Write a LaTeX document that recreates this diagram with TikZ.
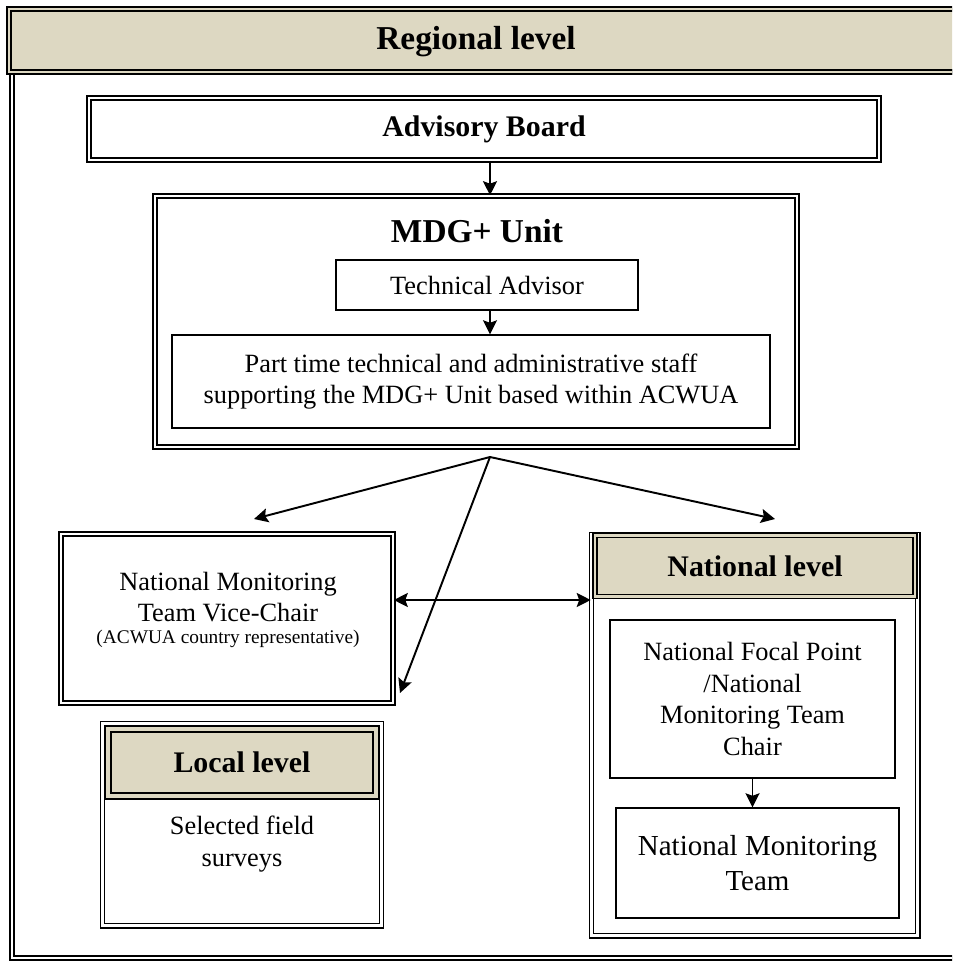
\documentclass[tikz,border=0pt]{standalone}
\usepackage{fontspec}
\setmainfont{Liberation Serif}
\usetikzlibrary{arrows, arrows.meta, positioning}
\definecolor{tanbg}{RGB}{221,216,194}
\tikzstyle{txt}=[align=center, font=\fontsize{15}{18}\selectfont]
\tikzstyle{btxt}=[align=center, font=\fontsize{17}{20}\selectfont\bfseries]
\tikzstyle{bigtxt}=[align=center, font=\fontsize{19}{22}\selectfont\bfseries]
\tikzstyle{box}=[draw, line width=0.8pt, inner sep=0pt, txt]
\tikzstyle{dbox}=[draw, double, double distance=1.6pt, line width=0.9pt, inner sep=0pt]
\tikzstyle{tanbox}=[dbox, fill=tanbg, double=tanbg, btxt]
\tikzstyle{arr} = [line width=1.1pt,->,>={Stealth[length=2.8mm, width=2.8mm, inset=0.5mm]}]

\begin{document}
\begin{tikzpicture}[x=0.2mm, y=-0.2mm]
    \useasboundingbox (0,0) rectangle (952,963);
    \clip (0,0) rectangle (952,963);

    % regional frame and its header
    \node [dbox, minimum width=191.6mm, minimum height=177.2mm](frame) at (491,515) {};
    \node [tanbox, minimum width=192.2mm, minimum height=12.6mm](regbar) at (489.5,40.5) {};
    \node [bigtxt](regional) at (476,42) {Regional level};

    % advisory board and MDG+ unit
    \node [dbox, btxt, minimum width=158mm, minimum height=12.4mm](advisory) at (484,129) {Advisory Board};
    \node [dbox, minimum width=128.4mm, minimum height=50.2mm](mdg) at (476,321.5) {};
    \node [bigtxt](mdgtitle) at (477,231) {MDG+ Unit};
    \node [box, minimum width=60.4mm, minimum height=10mm](tech) at (487,285) {Technical Advisor};
    \node [box, minimum width=119.6mm, minimum height=18.6mm](staff) at (471,381.5)
        {Part time technical and administrative staff\\supporting the MDG+ Unit based within ACWUA};

    % vice-chair
    \node [dbox, minimum width=66.4mm, minimum height=33.8mm](vice) at (227,618.5) {};
    \node [txt](vicetxt) at (228,597) {National Monitoring\\Team Vice-Chair};
    \node [font=\fontsize{11}{13}\selectfont](vicenote) at (228,639) {(ACWUA country representative)};

    % local level
    \node [dbox, minimum width=55.8mm, minimum height=40.4mm](local) at (242,824.5) {};
    \node [tanbox, line width=1.2pt, double distance=2pt, minimum width=53.6mm, minimum height=13.4mm](localhdr) at (242,762.5) {Local level};
    \node [txt](surveys) at (242,844) {Selected field\\surveys};

    % national level
    \node [dbox, minimum width=65.2mm, minimum height=80.2mm](national) at (754.5,735) {};
    \node [tanbox, minimum width=64mm, minimum height=12.2mm](nathdr) at (755,566) {National level};
    \node [box, minimum width=57mm, minimum height=31.6mm](focal) at (752.5,699)
        {National Focal Point\\/National\\Monitoring Team\\Chair};
    \node [box, font=\fontsize{16.5}{20}\selectfont, minimum width=56.6mm, minimum height=22mm](nmt) at (757.5,863)
        {National Monitoring\\Team};

    \coordinate (hub) at (490,457);
    \coordinate (vtip) at (254,519);
    \coordinate (ntip) at (775,519);
    \coordinate (ltip) at (400,693);
    \coordinate (link) at (490,600);

    \path (advisory.south -| hub) edge[arr] (mdg.north -| hub);
    \path (tech.south -| hub) edge[arr] (staff.north -| hub);
    \path (hub) edge[arr] (vtip);
    \path (hub) edge[arr] (ntip);
    \path (hub) edge[arr] (ltip);
    \path (vice.east |- link) edge[arr, <->] (national.west |- link);
    \path (focal.south) edge[arr] (focal.south |- nmt.north);
\end{tikzpicture}
\end{document}
